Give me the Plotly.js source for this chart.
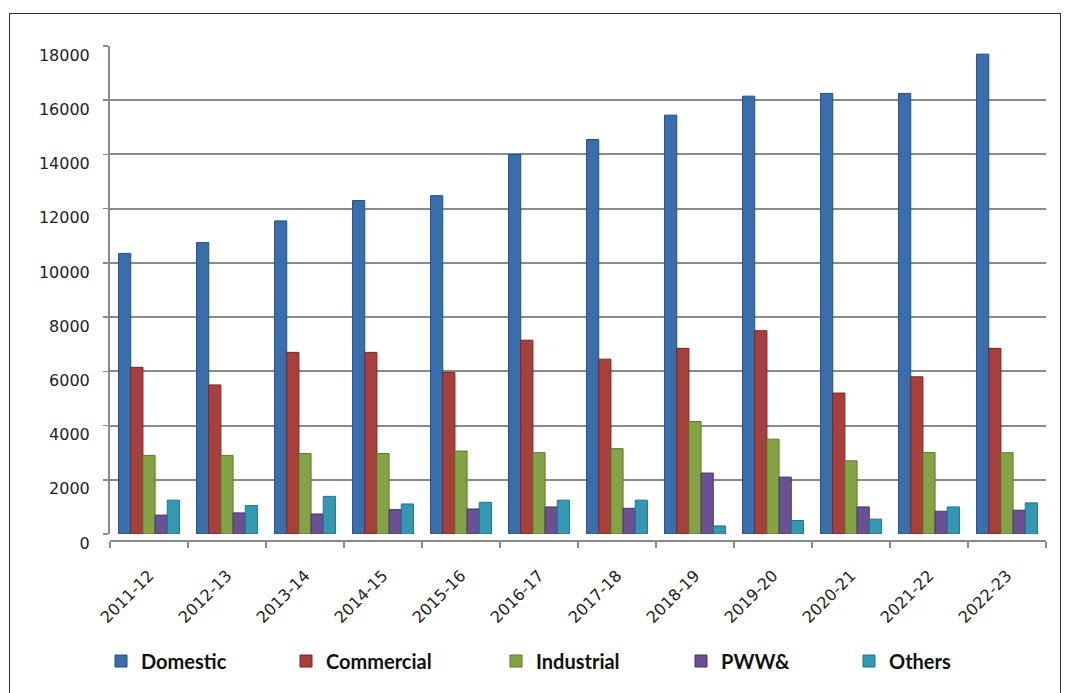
<!DOCTYPE html>
<html>
<head>
<meta charset="utf-8">
<script src="https://cdn.plot.ly/plotly-3.0.1.min.js"></script>
<style>
html,body{margin:0;padding:0;background:#fff;}
#wrap{position:relative;width:1072px;height:693px;}
#chart{width:1072px;height:693px;}
#frame{position:absolute;left:9px;top:13px;width:1052px;height:690px;border:1.5px solid #333;box-sizing:border-box;pointer-events:none;}
</style>
</head>
<body>
<div id="wrap"><div id="chart"></div><div id="frame"></div></div>
<script>
const years = ["2011-12","2012-13","2013-14","2014-15","2015-16","2016-17","2017-18","2018-19","2019-20","2020-21","2021-22","2022-23"];
const domestic   = [10350, 10750, 11550, 12300, 12480, 14000, 14550, 15450, 16150, 16250, 16250, 17700];
const commercial = [6150, 5500, 6700, 6700, 5960, 7150, 6450, 6850, 7500, 5200, 5800, 6850];
const industrial = [2900, 2900, 2970, 2970, 3060, 3000, 3150, 4150, 3500, 2700, 3010, 3000];
const pww        = [700, 780, 740, 900, 925, 1000, 950, 2250, 2100, 1000, 840, 880];
const others     = [1250, 1050, 1390, 1110, 1170, 1250, 1250, 300, 500, 550, 1000, 1150];
const seriesNames = ["Domestic","Commercial","Industrial","PWW&","Others"];
const seriesData = [domestic, commercial, industrial, pww, others];
const colors = ["#3a6eaa","#a6403c","#84a246","#6b5093","#3598b3"];
const lines  = ["#1f4f86","#7c2421","#5e7a26","#48336e","#1d7590"];
const legendIds = ["legend","legend2","legend3","legend4","legend5"];

const traces = seriesNames.map((n,i)=>({
  type:"bar", name:n, x:years, y:seriesData[i],
  legend:legendIds[i],
  marker:{color:colors[i], line:{color:lines[i], width:1}},
  hoverinfo:"x+y+name"
}));

const M = {l:110, r:26, t:46, b:148};
const plotW = 1072 - M.l - M.r, plotH = 693 - M.t - M.b;
const legendLeftPx = [101, 286, 496, 681, 849];
const legendFont = {family:"Lato, Open Sans, sans-serif", size:20, color:"#111", weight:"bold"};

const layout = {
  width:1072, height:693,
  margin:M,
  paper_bgcolor:"#fff", plot_bgcolor:"rgba(0,0,0,0)",
  barmode:"group", bargap:0.22, bargroupgap:0,
  font:{family:"DejaVu Sans, Verdana, sans-serif", color:"#222"},
  xaxis:{
    type:"category", tickangle:-45,
    anchor:"free", position:0,
    tickfont:{family:"DejaVu Sans, Verdana, sans-serif", size:16, color:"#222"},
    showline:true, linecolor:"#8a8a8a", linewidth:2,
    ticks:"outside", tickson:"boundaries", ticklen:6, tickcolor:"#8a8a8a", tickwidth:1.5,
    ticklabelstandoff:18,
    showgrid:false
  },
  yaxis:{
    domain:[7/plotH, 1],
    range:[0,18000], dtick:2000, tickformat:"d",
    tickfont:{family:"DejaVu Sans, Verdana, sans-serif", size:16, color:"#222"},
    showgrid:true, gridcolor:"#8a8a8a", gridwidth:2,
    showline:true, linecolor:"#8a8a8a", linewidth:2,
    ticks:"outside", ticklen:5, tickcolor:"#8a8a8a", tickwidth:1.5,
    ticklabelstandoff:10, ticklabelshift:9,
    zeroline:false
  },
  showlegend:true
};
legendIds.forEach((id,i)=>{
  layout[id] = {
    orientation:"h", x:(legendLeftPx[i]-M.l)/plotW, xanchor:"left",
    y:(M.t+plotH-666)/plotH, yanchor:"middle",
    font:legendFont, bgcolor:"rgba(0,0,0,0)", borderwidth:0
  };
});

Plotly.newPlot("chart", traces, layout, {displayModeBar:false, staticPlot:true});
</script>
</body>
</html>
